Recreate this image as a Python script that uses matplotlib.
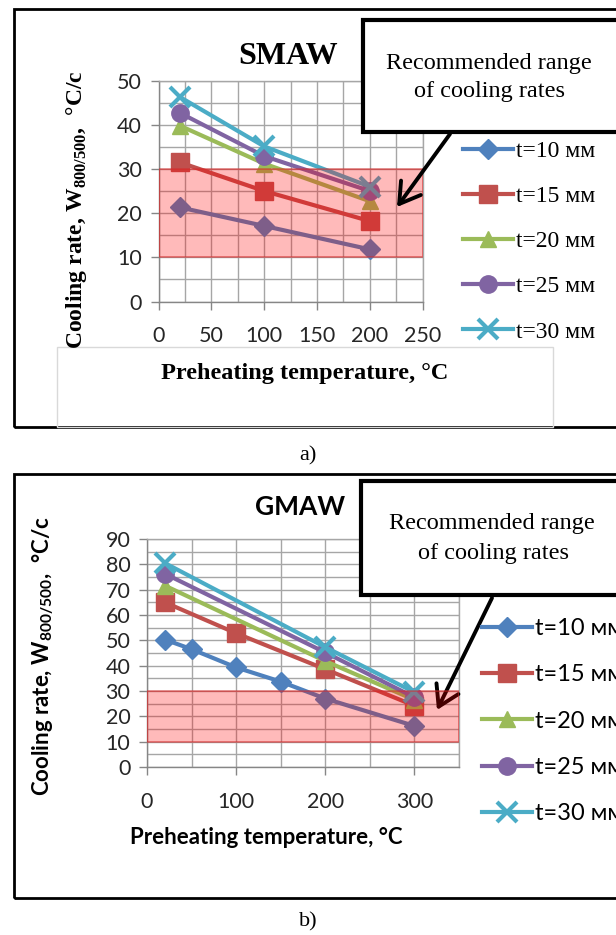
import matplotlib
matplotlib.use("Agg")
import matplotlib.pyplot as plt
from matplotlib.patches import Rectangle, FancyArrowPatch

plt.rcParams['mathtext.fontset'] = 'custom'
plt.rcParams['mathtext.rm'] = 'Liberation Serif:bold'
plt.rcParams['mathtext.sf'] = 'Lato:bold'

W, H = 616, 935

# ---------------- data ----------------
labels = ["t=10 мм", "t=15 мм", "t=20 мм", "t=25 мм", "t=30 мм"]
colors = ["#4F81BD", "#C0504D", "#9BBB59", "#8064A2", "#4BACC6"]
markers = ["D", "s", "^", "o", "x"]

smaw_x = [[20, 100, 200]] * 5
smaw_y = [
    [21.3, 17.1, 11.8],
    [31.5, 25.0, 18.2],
    [39.8, 31.2, 22.7],
    [42.7, 32.9, 25.0],
    [46.3, 35.1, 26.0],
]

gmaw_x = [
    [20, 50, 100, 150, 200, 300],
    [20, 100, 200, 300],
    [20, 200, 300],
    [20, 200, 300],
    [20, 200, 300],
]
gmaw_y = [
    [50.3, 46.5, 39.3, 33.7, 27.0, 16.2],
    [65.0, 52.8, 38.6, 24.2],
    [71.6, 41.8, 26.5],
    [76.3, 45.2, 27.5],
    [80.5, 47.3, 29.5],
]

band = (10, 30)
smaw_xticks = [0, 50, 100, 150, 200, 250]
smaw_yticks = [0, 10, 20, 30, 40, 50]
gmaw_xticks = [0, 100, 200, 300]
gmaw_yticks = [0, 10, 20, 30, 40, 50, 60, 70, 80, 90]

# ---------------- helpers ----------------
def fx(px):
    return px / W

def fy(py):
    return 1 - py / H

def axes_px(left, top, right, bottom):
    return [fx(left), fy(bottom), (right - left) / W, (bottom - top) / H]

fig = plt.figure(figsize=(W / 100, H / 100), dpi=100)
fig.patch.set_facecolor("white")

SERIF = "Liberation Serif"
SANS = "Lato"
GRID = "#a6a6a6"
AXC = "#868686"
MS = {"D": 10, "s": 12.5, "^": 12, "o": 12.5, "x": 15}


def style_axes(ax, xlim, ylim, xticks, yticks, xminor, yminor, tickfont, tsize):
    ax.set_xlim(*xlim)
    ax.set_ylim(*ylim)
    ax.set_xticks(xticks)
    ax.set_yticks(yticks)
    ax.set_xticks(xminor, minor=True)
    ax.set_yticks(yminor, minor=True)
    ax.grid(True, which="both", color=GRID, lw=1.0, zorder=0)
    ax.set_axisbelow(True)
    for s in ax.spines.values():
        s.set_color(GRID)
        s.set_linewidth(1.0)
    ax.spines["left"].set_color(AXC)
    ax.spines["bottom"].set_color(AXC)
    ax.tick_params(which="minor", length=0)
    ax.tick_params(which="major", length=6, width=1, color=AXC, direction="out")
    for lab in ax.get_xticklabels() + ax.get_yticklabels():
        lab.set_fontfamily(tickfont)
        lab.set_fontsize(tsize)
        lab.set_color("#262626")


def draw_series(ax, xs, ys):
    for x, y, c, m, lab in zip(xs, ys, colors, markers, labels):
        if m == "x":
            ax.plot(x, y, color=c, lw=3, marker=m, ms=MS[m], mew=3,
                    label=lab, zorder=3, clip_on=False)
        else:
            ax.plot(x, y, color=c, lw=3, marker=m, ms=MS[m],
                    mfc=c, mec=c, label=lab, zorder=3, clip_on=False)


# ================= panel a) SMAW =================
fig.add_artist(Rectangle((fx(14), fy(427)), fx(800), (427 - 9) / H,
                         transform=fig.transFigure, fill=False,
                         edgecolor="black", lw=2, zorder=1))
fig.add_artist(Rectangle((fx(57), fy(427)), (553 - 57) / W, (427 - 347) / H,
                         transform=fig.transFigure, fill=False,
                         edgecolor="#d9d9d9", lw=1, zorder=1))

ax1 = fig.add_axes(axes_px(158.5, 80.5, 422.5, 301.5))
draw_series(ax1, smaw_x, smaw_y)
ax1.axhspan(band[0], band[1], facecolor=(1, 0, 0, 0.27),
            edgecolor=(0.85, 0.15, 0.15, 0.55), lw=1.2, zorder=4)
style_axes(ax1, (0, 250), (0, 50), smaw_xticks, smaw_yticks,
           list(range(0, 251, 25)), list(range(0, 51, 5)), SANS, 15.5)
ax1.tick_params(axis="x", pad=12)
ax1.tick_params(axis="y", pad=6)

fig.text(fx(288), fy(57), "SMAW", family=SERIF, weight="bold", fontsize=23,
         ha="center", va="center")
fig.text(fx(77), fy(210), r"Cooling rate, $\mathrm{W}_{\mathrm{800/500}}$,  °C/c",
         family=SERIF, weight="bold", fontsize=17, rotation=90,
         ha="center", va="center")
fig.text(fx(305), fy(373), "Preheating temperature, °C", family=SERIF,
         weight="bold", fontsize=17.5, ha="center", va="center")

leg1 = ax1.legend(loc="center left", bbox_to_anchor=(fx(463), fy(241.5)),
                  bbox_transform=fig.transFigure, frameon=False,
                  prop={"family": SERIF, "size": 17}, borderpad=0,
                  borderaxespad=0, handlelength=2.1, handletextpad=0.15,
                  labelspacing=1.0, numpoints=1)

# callout box a)
fig.add_artist(Rectangle((fx(363), fy(132)), fx(400), (132 - 20) / H,
                         transform=fig.transFigure, facecolor="white",
                         edgecolor="black", lw=3, zorder=10))
fig.text(fx(489), fy(63), "Recommended range", family=SERIF, fontsize=17.5,
         ha="center", va="center", zorder=11)
fig.text(fx(490), fy(92), "of cooling rates", family=SERIF, fontsize=17.5,
         ha="center", va="center", zorder=11)
fig.add_artist(FancyArrowPatch((fx(450), fy(134)), (fx(397), fy(207)),
                               transform=fig.transFigure,
                               arrowstyle="->,head_length=0.9,head_width=0.55",
                               mutation_scale=16, lw=2.8, color="black",
                               shrinkA=0, shrinkB=0, zorder=12))

fig.text(fx(308), fy(456), "a)", family=SERIF, fontsize=16,
         ha="center", va="center")

# ================= panel b) GMAW =================
fig.add_artist(Rectangle((fx(14), fy(898)), fx(800), (898 - 474) / H,
                         transform=fig.transFigure, fill=False,
                         edgecolor="black", lw=2, zorder=1))

ax2 = fig.add_axes(axes_px(147, 539, 459, 767))
draw_series(ax2, gmaw_x, gmaw_y)
ax2.annotate("", xy=(fx(437), fy(710)), xycoords="figure fraction",
             xytext=(fx(492), fy(598)), textcoords="figure fraction",
             arrowprops=dict(arrowstyle="->,head_length=0.9,head_width=0.55",
                             mutation_scale=16, lw=2.8, color="black",
                             shrinkA=0, shrinkB=0),
             annotation_clip=False, zorder=3.5)
ax2.axhspan(band[0], band[1], facecolor=(1, 0, 0, 0.27),
            edgecolor=(0.85, 0.15, 0.15, 0.55), lw=1.2, zorder=4)
style_axes(ax2, (0, 350), (0, 90), gmaw_xticks, gmaw_yticks,
           list(range(0, 351, 50)), list(range(0, 91, 5)), SANS, 15.5)
ax2.tick_params(axis="x", pad=12)
ax2.tick_params(axis="y", pad=6)

fig.text(fx(300), fy(507), "GMAW", family=SANS, weight="bold", fontsize=19,
         ha="center", va="center")
fig.text(fx(43), fy(656), r"Cooling rate, $\mathsf{W}_{\mathsf{800/500}}$,  °C/c",
         family=SANS, weight="bold", fontsize=16, rotation=90,
         ha="center", va="center")
fig.text(fx(266), fy(838), "Preheating temperature, °C", family=SANS,
         weight="bold", fontsize=16, ha="center", va="center")

leg2 = ax2.legend(loc="center left", bbox_to_anchor=(fx(482), fy(721)),
                  bbox_transform=fig.transFigure, frameon=False,
                  prop={"family": SANS, "size": 17}, borderpad=0,
                  borderaxespad=0, handlelength=2.1, handletextpad=0.15,
                  labelspacing=1.07, numpoints=1)

fig.add_artist(Rectangle((fx(361), fy(595)), fx(400), (595 - 481) / H,
                         transform=fig.transFigure, facecolor="white",
                         edgecolor="black", lw=3, zorder=10))
fig.text(fx(492), fy(523), "Recommended range", family=SERIF, fontsize=17.5,
         ha="center", va="center", zorder=11)
fig.text(fx(493), fy(553), "of cooling rates", family=SERIF, fontsize=17.5,
         ha="center", va="center", zorder=11)

fig.text(fx(308), fy(922), "b)", family=SERIF, fontsize=16,
         ha="center", va="center")

fig.savefig("out.png", dpi=100, facecolor="white")
